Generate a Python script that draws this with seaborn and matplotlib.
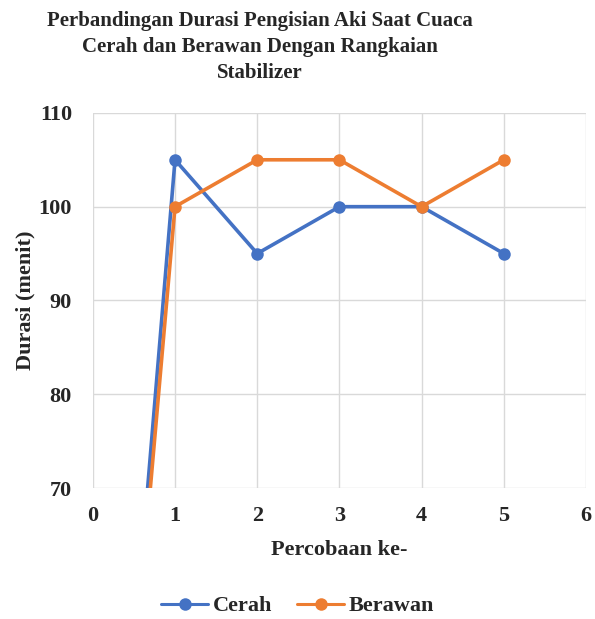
import matplotlib
matplotlib.use("Agg")
import matplotlib.pyplot as plt
import seaborn as sns
import pandas as pd
from matplotlib.lines import Line2D

# data
percobaan = [0, 1, 2, 3, 4, 5]
cerah = [0, 105, 95, 100, 100, 95]
berawan = [0, 100, 105, 105, 100, 105]

df = pd.DataFrame({
    "Percobaan ke-": percobaan * 2,
    "Durasi (menit)": cerah + berawan,
    "Cuaca": ["Cerah"] * len(cerah) + ["Berawan"] * len(berawan),
})

sns.set_theme(style="whitegrid")
plt.rcParams["font.family"] = ["Liberation Serif", "DejaVu Serif"]
plt.rcParams["font.weight"] = "bold"

fig = plt.figure(figsize=(5.95, 6.19), dpi=100)
ax = fig.add_axes([0.156, 0.2116, 0.829, 0.606])

palette = {"Cerah": "#4472C4", "Berawan": "#ED7D31"}
sns.lineplot(data=df, x="Percobaan ke-", y="Durasi (menit)", hue="Cuaca",
             palette=palette, marker="o", markersize=9, markeredgewidth=0,
             linewidth=2.6, ax=ax, legend=False)

ax.set_xlim(0, 6)
ax.set_ylim(70, 110)
ax.set_xticks(range(0, 7))
ax.set_yticks(range(70, 111, 10))
ax.grid(True, color="#d9d9d9", linewidth=1)
for s in ax.spines.values():
    s.set_visible(False)
ax.tick_params(axis="x", labelsize=16, length=0, pad=13)
ax.tick_params(axis="y", labelsize=16, length=0, pad=15)
for lbl in ax.get_xticklabels() + ax.get_yticklabels():
    lbl.set_fontweight("bold")

ax.set_xlabel("Percobaan ke-", fontsize=16, fontweight="bold", labelpad=10)
ax.set_ylabel("Durasi (menit)", fontsize=16, fontweight="bold", labelpad=2)

fig.text(0.437, 0.982,
         "Perbandingan Durasi Pengisian Aki Saat Cuaca\nCerah dan Berawan Dengan Rangkaian\nStabilizer",
         fontsize=15, fontweight="bold", ha="center", va="top", linespacing=1.4)

handles = [Line2D([], [], color=palette[k], marker="o", markersize=9,
                  markeredgewidth=0, linewidth=2.2) for k in ["Cerah", "Berawan"]]
fig.legend(handles, ["Cerah", "Berawan"], loc="center", bbox_to_anchor=(0.5, 0.021),
           ncol=2, frameon=False, prop={"size": 16, "weight": "bold"},
           handlelength=2.15, columnspacing=1.1, handletextpad=0.2)

fig.savefig("out.png", dpi=100)
